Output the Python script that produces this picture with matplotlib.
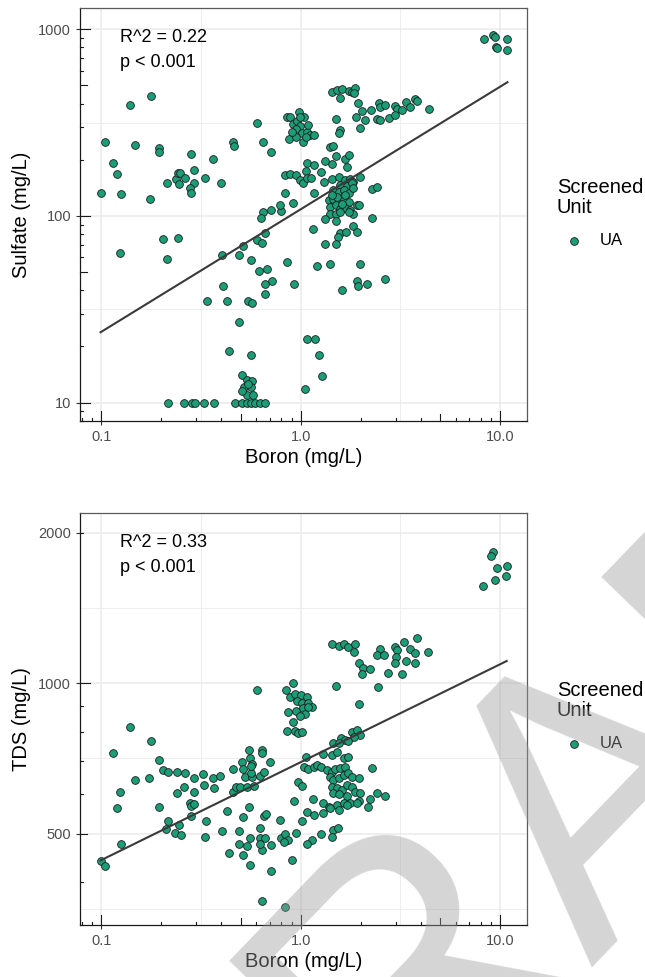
import numpy as np
import matplotlib
matplotlib.use('Agg')
import matplotlib.pyplot as plt
import matplotlib.transforms as mtransforms
from matplotlib.ticker import FixedLocator, FixedFormatter, NullFormatter

plt.rcParams['font.family'] = ['Liberation Sans', 'DejaVu Sans']

# ---- Sulfate vs Boron ----
so4_boron = [
    0.099, 0.104, 0.114, 0.12, 0.126, 0.124, 0.139, 0.148, 0.177, 0.175, 0.195, 0.195,
    0.203, 0.214, 0.213, 0.242, 0.236, 0.242, 0.248, 0.244, 0.264, 0.282, 0.290, 0.292,
    0.277, 0.282, 0.331, 0.362, 0.397, 0.459, 0.462, 0.606, 0.65, 0.707, 0.795, 0.707,
    0.645, 0.635, 0.662, 0.601, 0.637, 0.512, 0.401, 0.489, 0.561, 0.620, 0.680, 0.716,
    0.664, 0.664, 0.409, 0.338, 0.429, 0.546, 0.568, 0.492, 0.438, 0.566,
    0.217, 0.260, 0.284, 0.295, 0.327, 0.367, 0.469, 0.506, 0.536, 0.561, 0.590, 0.625, 0.662,
    0.506, 0.536, 0.572, 0.521, 0.566, 0.536, 0.576, 0.545, 0.51,
    8.3, 9.2, 9.4, 9.6, 10.8, 10.9, 9.7,
    1.43, 1.52, 1.62, 1.58, 1.74, 1.80, 1.88, 1.86,
    1.94, 2.03, 2.25, 2.48, 2.50, 2.65, 2.97, 3.03, 3.38, 3.21, 3.53, 3.75, 3.82, 4.42,
    1.89, 2.10, 2.41, 2.50, 2.76, 2.97, 1.50, 1.98, 1.58, 1.55,
    0.85, 0.88, 0.98, 1.04, 0.92, 0.96, 0.99, 0.95, 1.01, 1.07, 1.11, 1.16, 0.87, 0.95,
    1.03, 1.06, 1.09, 0.90, 0.99,
    1.40, 1.46, 1.50, 1.43, 1.32, 1.27, 1.67, 1.74, 1.70, 1.07, 1.16, 1.06,
    0.83, 0.88, 0.95, 0.99, 1.03, 1.07, 1.13, 1.31, 0.83, 0.92, 0.79, 1.16, 0.85, 0.93,
    1.15, 1.21, 1.40, 1.98, 2.65, 1.91, 2.14, 1.61, 1.93, 2.27, 2.27, 2.41, 1.91, 1.84,
    1.91, 1.58, 1.69, 1.53, 1.33, 1.50,
    1.43, 1.55, 1.67, 1.76, 1.82, 1.98, 1.58, 1.70, 1.80, 1.46, 1.55, 1.64, 1.74, 1.84,
    1.38, 1.46, 1.55, 1.64, 1.74, 1.40, 1.50, 1.58, 1.67, 1.77, 1.84, 1.95, 1.40, 1.50,
    1.58, 1.32, 1.50, 1.74, 1.67, 1.52, 1.43, 1.61,
    1.08, 1.18, 1.24, 1.28, 1.05,
]
so4_sulfate = [
    133, 248, 193, 168, 131, 63, 394, 240, 439, 124, 230, 221,
    75, 59, 150, 76, 158, 170, 169, 149, 159, 215, 176, 150,
    142, 133, 159, 201, 150, 248, 237, 316, 248, 221, 107, 108,
    105, 97, 81, 74, 72, 69, 62, 62, 58, 51, 52, 45,
    43, 38, 42, 35, 35, 35, 34, 27, 19, 18,
    10, 10, 10, 10, 10, 10, 10, 10, 10, 10, 10, 10, 10,
    14, 13.2, 13.1, 12.2, 12.2, 11, 11, 12.6, 11.5,
    883, 933, 906, 807, 883, 774, 791,
    464, 473, 476, 427, 468, 464, 483, 454,
    402, 367, 370, 402, 382, 394, 388, 373, 410, 370, 385, 422, 415, 373,
    338, 327, 330, 327, 334, 348, 330, 295, 289, 277,
    338, 341, 362, 338, 311, 324, 304, 291, 277, 280, 271, 271, 260, 264,
    250, 264, 307, 283, 341,
    235, 237, 210, 190, 196, 173, 201, 212, 182, 193, 188, 175,
    166, 168, 166, 156, 151, 159, 159, 153, 133, 118, 115, 133, 57, 43,
    85, 54, 55, 55, 46, 45, 43, 40, 42, 97, 139, 143, 115, 88,
    82, 81, 82, 77, 71, 71,
    157, 161, 156, 157, 153, 162, 147, 144, 150, 138, 135, 137, 132, 141,
    122, 123, 121, 123, 119, 112, 115, 109, 111, 108, 103, 115, 103, 103,
    105, 96, 94, 105, 130, 127, 130, 116,
    22, 22, 18, 13.9, 11.9,
]

# ---- TDS vs Boron ----
tds_boron = [
    0.099, 0.104, 0.114, 0.12, 0.124, 0.126, 0.139, 0.148, 0.174, 0.177, 0.195, 0.195,
    0.203, 0.217, 0.217, 0.211, 0.239, 0.239, 0.244, 0.235, 0.250, 0.264, 0.260, 0.290,
    0.292, 0.277, 0.282, 0.290, 0.282, 0.325, 0.327, 0.362, 0.367, 0.393, 0.336, 0.330,
    0.429, 0.401, 0.459, 0.459, 0.474, 0.494, 0.506, 0.514, 0.524, 0.536, 0.552, 0.558,
    0.572, 0.572, 0.580, 0.560, 0.566, 0.625, 0.641, 0.637, 0.653, 0.705, 0.552, 0.512,
    0.492, 0.438, 0.492, 0.512, 0.536, 0.558, 0.558, 0.625, 0.653, 0.666, 0.625, 0.641,
    0.662, 0.628, 0.709, 0.709, 0.787, 0.795, 0.834, 0.867, 0.823, 0.950, 0.924, 0.637,
    0.834, 0.90, 0.606,
    0.919, 0.844, 0.884, 0.937, 1.0, 1.07, 0.955, 1.01, 1.09, 1.14, 0.867, 0.947, 1.03,
    1.05, 0.99, 0.912, 0.851, 0.937, 0.973, 1.01, 1.09,
    9.2, 8.98, 9.62, 10.8, 10.7, 9.44, 8.25,
    1.43, 1.55, 1.64, 1.73, 1.87, 1.85, 1.95, 2.06, 2.23, 2.02, 2.45, 2.50, 2.42, 2.62,
    2.97, 3.03, 3.01, 2.97, 3.30, 3.53, 3.75, 3.85, 3.75, 3.38, 4.37, 2.75, 3.21, 1.50, 1.95,
    1.80, 1.91, 1.98, 1.85, 1.59, 1.67, 1.73, 1.46, 1.55, 1.30, 1.43, 1.52, 1.64, 1.73,
    1.06, 1.04, 1.09, 1.16, 1.21, 1.26, 1.35, 1.43, 1.49, 1.58, 1.67, 1.40, 1.46, 1.55,
    1.64, 1.73, 1.80, 1.95, 0.973, 1.01, 1.43, 1.52, 1.61, 1.70, 1.80, 1.46, 1.55, 1.70,
    1.87, 1.98, 1.15, 1.30, 1.38, 1.52, 1.64, 1.77, 1.95, 2.23, 2.41, 2.65, 2.27, 1.07,
    1.16, 1.30, 1.40, 1.55, 1.01,
    1.70, 1.91, 2.17, 1.46, 1.53, 1.43, 1.27, 1.14, 1.07,
]
tds_tds = [
    440, 430, 724, 563, 607, 477, 817, 640, 645, 768, 703, 565,
    671, 663, 529, 510, 663, 603, 520, 502, 497, 660, 619, 645,
    607, 577, 568, 573, 542, 657, 626, 645, 618, 652, 529, 493,
    554, 505, 673, 607, 621, 621, 697, 673, 650, 621, 735, 707,
    690, 650, 622, 660, 683, 652, 736, 724, 665, 697, 565, 539,
    507, 458, 477, 453, 473, 490, 432, 513, 542, 547, 490, 463,
    490, 477, 475, 421, 532, 490, 499, 485, 481, 502, 582, 367,
    357, 442, 970,
    1000, 970, 940, 953, 948, 940, 923, 915, 915, 898, 874, 878, 891,
    868, 860, 838, 804, 804, 796, 800, 898,
    1836, 1795, 1699, 1718, 1640, 1611, 1566,
    1196, 1190, 1196, 1184, 1196, 1157, 1100, 1072, 1067, 1042, 985, 1170, 1139, 1139,
    1184, 1166, 1130, 1100, 1212, 1170, 1150, 1231, 1100, 1110, 1157, 1050, 1042, 988, 909,
    800, 807, 788, 782, 776, 770, 768, 761, 759, 722, 718, 727, 707, 711,
    711, 679, 673, 679, 686, 681, 671, 665, 673, 676, 679, 650, 640, 645,
    655, 660, 650, 645, 635, 623, 621, 617, 612, 626, 621, 604, 600, 594,
    607, 604, 586, 577, 566, 571, 575, 577, 582, 586, 604, 594, 676, 553,
    545, 549, 562, 558, 529,
    571, 577, 566, 509, 513, 493, 500, 486, 477,
]

# fitted log-log lines as shown: log10(y) = intercept + slope * log10(boron)
so4_fit = {'slope': 0.656, 'intercept': 2.036}
tds_fit = {'slope': 0.196, 'intercept': 2.842}

so4_stats = ['R^2 = 0.22', 'p < 0.001']
tds_stats = ['R^2 = 0.33', 'p < 0.001']
unit_label = 'UA'

x_breaks = [0.1, 1.0, 10.0]
x_labels = ['0.1', '1.0', '10.0']
so4_breaks = [10, 100, 1000]
tds_breaks = [500, 1000, 2000]

W, H = 645, 977
fill = '#1B9E77'
grid_col = '#EBEBEB'

fig = plt.figure(figsize=(W / 100, H / 100), dpi=100)
fig.patch.set_facecolor('white')


def px_axes(left, top, right, bottom):
    return fig.add_axes([left / W, 1 - bottom / H, (right - left) / W, (bottom - top) / H])


def log_ticks(ax, which, lo, hi, ax_len_px):
    # ggplot annotation_logticks: long at 10^n, mid at 5*10^n, short otherwise
    if which == 'x':
        tr = mtransforms.blended_transform_factory(ax.transData, ax.transAxes)
    else:
        tr = mtransforms.blended_transform_factory(ax.transAxes, ax.transData)
    for n in range(int(np.floor(np.log10(lo))), int(np.ceil(np.log10(hi))) + 1):
        for k in range(1, 10):
            v = k * 10.0 ** n
            if v < lo or v > hi:
                continue
            L = 10.0 if k == 1 else (6.7 if k == 5 else 3.4)
            f = L / ax_len_px
            if which == 'x':
                ax.plot([v, v], [0, f], transform=tr, color='#1a1a1a', lw=0.8, clip_on=False, zorder=5)
            else:
                ax.plot([0, f], [v, v], transform=tr, color='#1a1a1a', lw=0.8, clip_on=False, zorder=5)


def panel(ax, bx, yv, fit, ylim, ybreaks, yminor, ylabel, stats, leg_top):
    bx = np.array(bx)
    yv = np.array(yv)
    ax.set_xscale('log')
    ax.set_yscale('log')
    xlim = (0.0781, 13.66)
    ax.set_xlim(*xlim)
    ax.set_ylim(*ylim)

    ax.xaxis.set_major_locator(FixedLocator(x_breaks))
    ax.xaxis.set_major_formatter(FixedFormatter(x_labels))
    ax.xaxis.set_minor_locator(FixedLocator([10 ** -0.5, 10 ** 0.5]))
    ax.xaxis.set_minor_formatter(NullFormatter())
    ax.yaxis.set_major_locator(FixedLocator(ybreaks))
    ax.yaxis.set_major_formatter(FixedFormatter([str(b) for b in ybreaks]))
    ax.yaxis.set_minor_locator(FixedLocator(yminor))
    ax.yaxis.set_minor_formatter(NullFormatter())

    ax.grid(True, which='major', color=grid_col, lw=1.1, zorder=0)
    ax.grid(True, which='minor', color=grid_col, lw=0.6, zorder=0)
    ax.set_axisbelow(True)
    ax.tick_params(which='major', direction='out', length=2.9, width=0.8, color='#333333',
                   labelsize=10.5, labelcolor='#4D4D4D', pad=3.5)
    ax.tick_params(which='minor', length=0)

    for s in ['top', 'right']:
        ax.spines[s].set_color('#5a5a5a')
        ax.spines[s].set_linewidth(0.9)
    for s in ['left', 'bottom']:
        ax.spines[s].set_color('#1a1a1a')
        ax.spines[s].set_linewidth(0.9)

    pts = ax.scatter(bx, yv, s=31, color=fill, edgecolor='#1a1a1a', linewidth=0.6,
                     zorder=3, label=unit_label)

    # regression line across the range of the data
    xs = np.array([bx.min(), bx.max()])
    ax.plot(xs, 10 ** (fit['intercept'] + fit['slope'] * np.log10(xs)),
            color='#3a3a3a', lw=1.5, zorder=4)

    pos = ax.get_position()
    log_ticks(ax, 'x', xlim[0], xlim[1], pos.height * H)
    log_ticks(ax, 'y', ylim[0], ylim[1], pos.width * W)

    ax.text(0.0895, 0.918, stats[0], transform=ax.transAxes, fontsize=13, va='baseline')
    ax.text(0.0895, 0.857, stats[1], transform=ax.transAxes, fontsize=13, va='baseline')

    ax.set_xlabel('Boron (mg/L)', fontsize=14.5, labelpad=3)
    ax.set_ylabel(ylabel, fontsize=14.5, labelpad=5)

    leg = ax.legend(handles=[pts], title='Screened\nUnit', loc='upper left',
                    bbox_to_anchor=(557 / W, 1 - leg_top / H), bbox_transform=fig.transFigure,
                    frameon=False, borderpad=0, borderaxespad=0, handlelength=2.0,
                    handletextpad=0.55, labelspacing=1.0, fontsize=12, title_fontsize=14.5,
                    alignment='left')
    leg.get_title().set_linespacing(1.05)


ax1 = px_axes(80, 8, 527, 421)
panel(ax1, so4_boron, so4_sulfate, so4_fit, (7.98, 1300), so4_breaks, [10 ** 1.5, 10 ** 2.5],
      'Sulfate (mg/L)', so4_stats, 178)

ax2 = px_axes(80, 513, 527, 925)
panel(ax2, tds_boron, tds_tds, tds_fit, (328, 2193), tds_breaks,
      [250 * 2 ** 0.5, 500 * 2 ** 0.5, 1000 * 2 ** 0.5], 'TDS (mg/L)', tds_stats, 681)

# DRAFT watermark laid over the lower panel
fig.text(196 / W, 1 - 1344 / H, 'DRAFT', fontsize=277, rotation=46, rotation_mode='anchor',
         ha='left', va='baseline', color='#9c9c9c', alpha=0.42, zorder=20)

fig.savefig('out.png', dpi=100, facecolor='white')
